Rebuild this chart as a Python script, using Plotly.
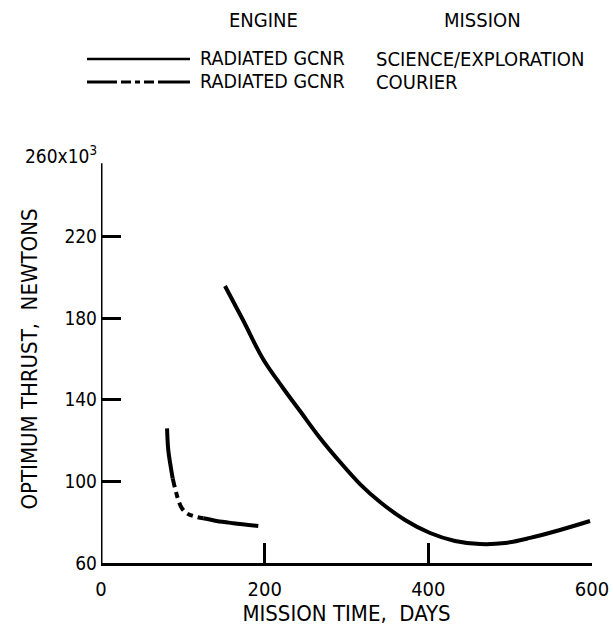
import plotly.graph_objects as go

# ---- data ----
science_days = [151.5, 173.5, 198.0, 222.4, 243.2, 267.6, 292.1, 316.5, 341.0, 371.5, 402.1,
                432.6, 463.2, 493.7, 524.3, 560.9, 597.6]
science_thrust = [195.8, 179.1, 160.0, 145.8, 134.5, 121.3, 109.5, 98.7, 89.9, 81.1, 74.7,
                  70.8, 69.3, 69.8, 72.3, 76.2, 80.6]

courier_days = [80.7, 82.2, 85.2, 87.6, 90.4, 94.5, 98.6, 104.7, 112.8, 125.0, 141.4, 161.7, 192.2]
courier_thrust = [126.0, 115.4, 107.2, 101.5, 96.8, 90.9, 87.0, 84.4, 83.0, 81.9, 80.6, 79.5, 78.1]

x_ticks = [0, 200, 400, 600]
y_ticks = [60, 100, 140, 180, 220]
y_top_label = "260x10<sup>3</sup>"

legend_engine = ["RADIATED GCNR", "RADIATED GCNR"]
legend_mission = ["SCIENCE/EXPLORATION", "COURIER"]

FONT = "DejaVu Sans Condensed, Liberation Sans Narrow, sans-serif"
INK = "black"

fig = go.Figure()

# science curve (solid)
fig.add_trace(go.Scatter(x=science_days, y=science_thrust, mode="lines",
                         line=dict(color=INK, width=4, shape="spline"),
                         showlegend=False, hoverinfo="skip"))

# courier curve: solid start, dashed middle, solid end
i_a, i_b = 3, 9
fig.add_trace(go.Scatter(x=courier_days[:i_a + 1], y=courier_thrust[:i_a + 1], mode="lines",
                         line=dict(color=INK, width=4, shape="spline"),
                         showlegend=False, hoverinfo="skip"))
fig.add_trace(go.Scatter(x=courier_days[i_a:i_b + 1], y=courier_thrust[i_a:i_b + 1], mode="lines",
                         line=dict(color=INK, width=4, shape="spline", dash="9px,5px,6px,5px"),
                         showlegend=False, hoverinfo="skip"))
fig.add_trace(go.Scatter(x=courier_days[i_b:], y=courier_thrust[i_b:], mode="lines",
                         line=dict(color=INK, width=4, shape="spline"),
                         showlegend=False, hoverinfo="skip"))

# plot-area geometry (px) for paper conversions
W, H = 613, 626
L, R, T, B = 101, 21, 155, 63
pw, ph = W - L - R, H - T - B


def px(xp):
    return (xp - L) / pw


def py(yp):
    return (H - B - yp) / ph


shapes = []
annotations = []

# y axis line (ends slightly below the top label)
shapes.append(dict(type="line", xref="x", yref="y", x0=0, x1=0, y0=60, y1=256,
                   line=dict(color=INK, width=3)))

# top y label
annotations.append(dict(text=y_top_label, xref="paper", yref="y", x=px(99), y=260,
                        xanchor="right", yanchor="middle", showarrow=False,
                        font=dict(family=FONT, size=19, color=INK)))

# legend header
annotations.append(dict(text="ENGINE", xref="paper", yref="paper", x=px(263), y=py(20),
                        xanchor="center", yanchor="middle", showarrow=False,
                        font=dict(family=FONT, size=20, color=INK)))
annotations.append(dict(text="MISSION", xref="paper", yref="paper", x=px(482), y=py(20),
                        xanchor="center", yanchor="middle", showarrow=False,
                        font=dict(family=FONT, size=20, color=INK)))

rows_y = [59, 82]
for k in range(2):
    annotations.append(dict(text=legend_engine[k], xref="paper", yref="paper", x=px(198), y=py(rows_y[k]),
                            xanchor="left", yanchor="middle", showarrow=False,
                            font=dict(family=FONT, size=19.5, color=INK)))
    annotations.append(dict(text=legend_mission[k], xref="paper", yref="paper", x=px(374), y=py(rows_y[k]),
                            xanchor="left", yanchor="middle", showarrow=False,
                            font=dict(family=FONT, size=20, color=INK)))

# legend samples
shapes.append(dict(type="line", xref="paper", yref="paper", x0=px(87), x1=px(190),
                   y0=py(rows_y[0]), y1=py(rows_y[0]), line=dict(color=INK, width=2.5)))
for a, b in [(87, 117), (121, 131), (135, 140), (144, 154), (158, 190)]:
    shapes.append(dict(type="line", xref="paper", yref="paper", x0=px(a), x1=px(b),
                       y0=py(rows_y[1]), y1=py(rows_y[1]), line=dict(color=INK, width=3)))

fig.update_layout(
    width=W, height=H,
    margin=dict(l=L, r=R, t=T, b=B, pad=0, autoexpand=False),
    paper_bgcolor="white", plot_bgcolor="white",
    font=dict(family=FONT, size=20, color=INK),
    shapes=shapes, annotations=annotations,
    showlegend=False,
)

fig.update_xaxes(range=[0, 600], tickvals=x_ticks, ticktext=[str(v) for v in x_ticks],
                 ticks="inside", ticklen=20, tickwidth=2.5, tickcolor=INK,
                 showline=True, linecolor=INK, linewidth=3, showgrid=False, zeroline=False,
                 automargin=False,
                 tickfont=dict(family=FONT, size=20, color=INK), ticklabelstandoff=6,
                 title=dict(text="MISSION TIME,  DAYS", standoff=5,
                            font=dict(family=FONT, size=22, color=INK)))

fig.update_yaxes(range=[60, 260], tickvals=y_ticks, ticktext=[str(v) for v in y_ticks],
                 ticks="inside", ticklen=20, tickwidth=2.5, tickcolor=INK,
                 showline=False, showgrid=False, zeroline=False,
                 automargin=False,
                 tickfont=dict(family=FONT, size=19, color=INK), ticklabelstandoff=3,
                 title=dict(text="OPTIMUM THRUST,  NEWTONS", standoff=20,
                            font=dict(family=FONT, size=22, color=INK)))

fig.write_html("out.html")
